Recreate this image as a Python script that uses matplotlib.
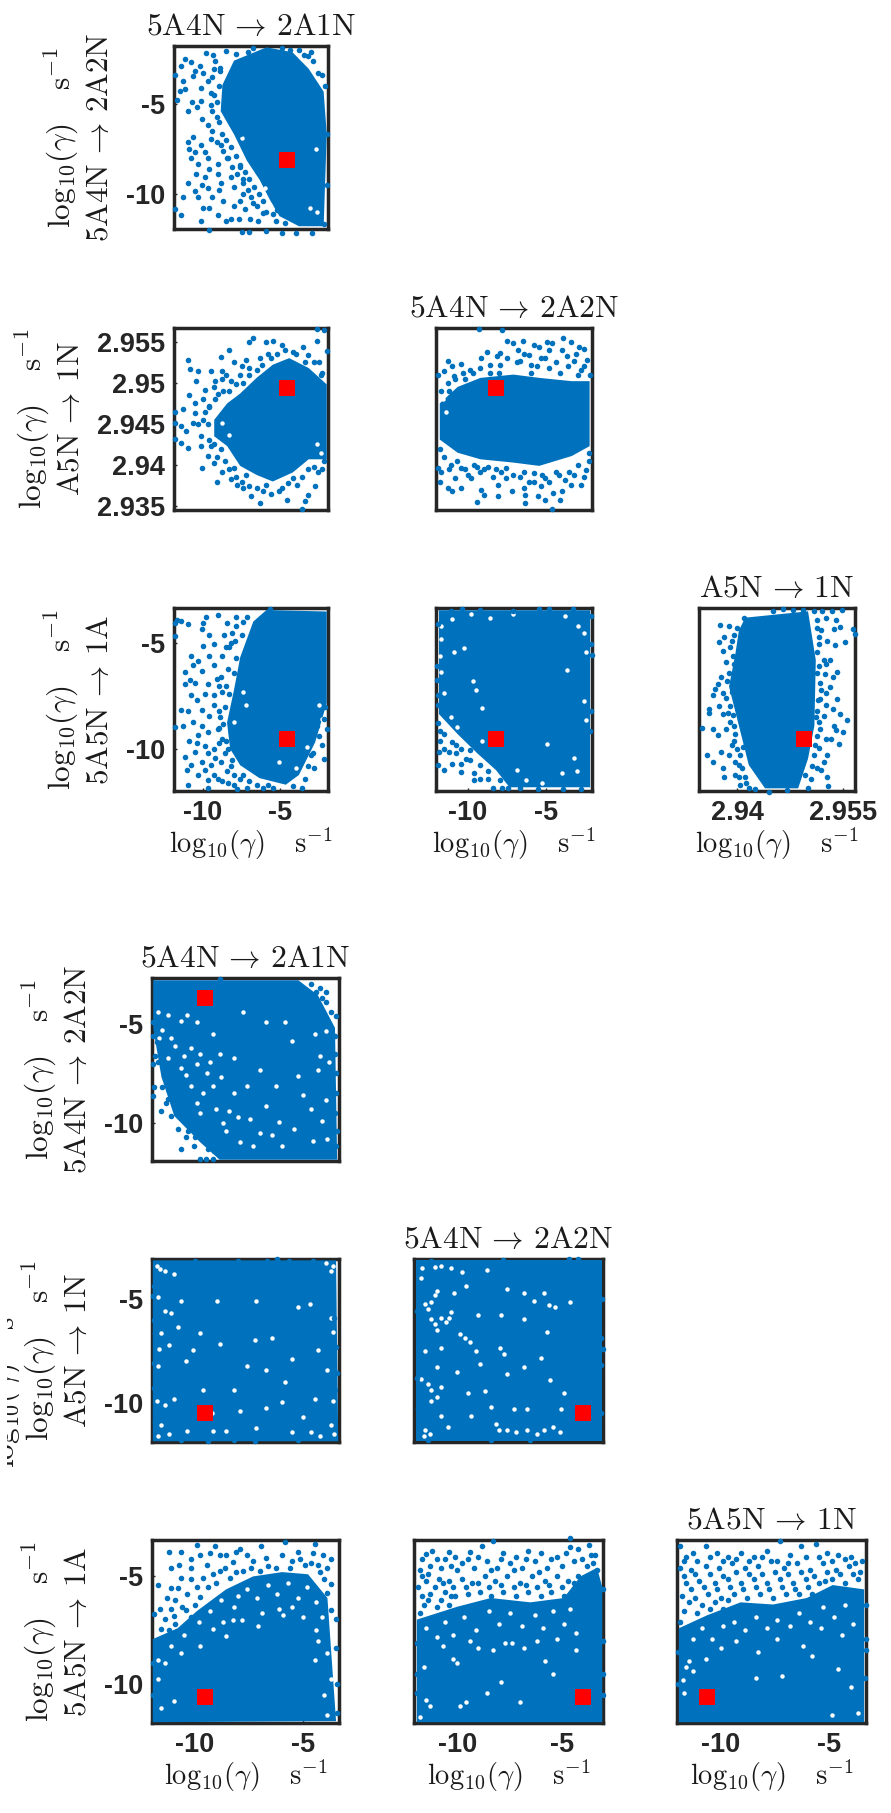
import matplotlib
matplotlib.use("Agg")
import matplotlib.pyplot as plt
from matplotlib.transforms import Bbox

plt.rcParams['mathtext.fontset'] = 'cm'

# *_core = outline of the cloud where dots merge into solid colour
# *_pts  = single dots that can be told apart
# *_gaps = white holes visible inside the merged part of the cloud

t1_core = [(-5.9,-1.86),(-8.0,-2.6),(-8.75,-3.95),(-8.86,-5.41),(-8.0,-6.69),(-7.17,-8.15),(-6.33,-9.24),(-5.7,-10.3),(-5.06,-11.24),(-3.8,-11.8),(-2.2,-11.8),(-2.0,-6.69),(-2.2,-4.32),(-3.17,-3.05),(-4.22,-2.13)]
t1_pts = [(-11.8,-3.4),(-11.4,-2.9),(-11.2,-2.5),(-10.75,-2.7),(-10.2,-2.9),(-9.8,-2.15),(-9.35,-2.3),(-8.5,-2.05),(-7.9,-2.25),(-11.5,-4.3),(-11.3,-3.75),(-10.65,-3.45),(-10.15,-4.1),(-9.7,-3.75),(-9.3,-3.05),(-11.7,-4.8),(-11.0,-5.4),(-10.15,-4.85),(-9.5,-5.05),(-9.3,-4.5),(-10.05,-5.85),(-9.7,-6.2),(-9.1,-5.75),(-11.0,-7.1),(-10.65,-6.85),(-10.15,-7.3),(-9.5,-6.95),(-8.85,-7.3),(-10.8,-8.0),(-10.35,-8.35),(-9.7,-8.0),(-9.05,-8.35),(-8.45,-8.0),(-10.45,-8.9),(-11.0,-9.4),(-9.9,-9.05),(-9.05,-8.9),(-8.2,-9.05),(-7.6,-8.5),(-10.55,-9.85),(-11.3,-10.2),(-10.35,-10.2),(-9.7,-9.65),(-8.85,-9.4),(-8.0,-9.6),(-7.4,-9.2),(-11.8,-10.85),(-11.4,-11.2),(-10.15,-11.5),(-9.6,-10.8),(-9.05,-11.2),(-8.2,-11.4),(-8.0,-10.65),(-7.3,-10.85),(-6.95,-11.4),(-9.6,-12.0),(-7.5,-12.1),(-7.05,-12.1),(-6.45,-11.5),(-5.9,-12.05),(-4.9,-12.2),(-4.0,-12.2),(-2.95,-12.2),(-2.2,-11.65),(-2.0,-9.5),(-2.0,-6.7),(-3.2,-2.35),(-2.55,-3.3),(-7.4,-10.0),(-6.75,-10.5),(-6.1,-11.05),(-5.25,-10.9),(-7.6,-6.65),
          (-9.2,-2.6),(-8.9,-3.2),(-9.4,-3.5),(-9.0,-4.0),(-9.5,-4.4),(-9.1,-4.9),(-9.4,-5.4),(-9.0,-6.0),(-9.4,-6.5),(-8.8,-6.7),(-9.1,-7.1),(-8.5,-7.0),(-8.7,-7.6),(-8.2,-7.4),(-8.4,-8.0),(-7.9,-7.9),(-8.1,-8.5),(-7.6,-8.4),(-7.8,-8.9),(-7.3,-8.8),(-7.4,-9.4),(-7.0,-9.2),(-7.1,-9.8),(-6.7,-9.6),(-6.9,-10.2),(-6.4,-10.0),(-6.5,-10.7),(-6.1,-10.4),(-5.9,-11.0),(-5.5,-11.1),(-5.3,-11.5),(-4.7,-11.6),(-10.5,-3.2),(-10.0,-3.3),(-10.4,-5.2),(-10.7,-4.9),(-11.2,-4.2),(-10.9,-7.5),(-10.5,-7.7),(-9.9,-7.7),(-9.6,-8.6),(-10.1,-9.5),(-9.4,-10.2),(-9.0,-9.8),(-10.0,-10.8),(-8.7,-10.4),(-8.5,-11.5),(-7.7,-11.4),(-7.6,-10.4),(-8.9,-3.0),(-7.1,-2.1),(-6.8,-1.9),(-4.9,-1.9),(-4.4,-2.0),(-3.5,-2.3),(-2.9,-2.6),(-2.3,-3.4),(-2.1,-4.0),(-3.0,-2.1),(-3.8,-2.0)]
t1_gaps = [(-7.5,-6.9),(-6.6,-9.4),(-6.0,-9.7),(-5.7,-10.6),(-2.7,-7.5),(-2.6,-11.0),(-3.1,-10.8)]

t21_core = [(-9.28,2.9455),(-8.44,2.9475),(-7.6,2.9487),(-6.54,2.9506),(-5.49,2.9522),(-4.43,2.9530),(-3.17,2.9518),(-2.0,2.9498),(-2.0,2.9407),(-3.17,2.9407),(-4.2,2.9391),(-5.49,2.9380),(-6.54,2.9388),(-7.6,2.9399),(-8.44,2.9423),(-9.28,2.9435)]
t21_pts = [(-11.8,2.9465),(-11.3,2.9468),(-11.8,2.9451),(-11.8,2.9432),(-11.4,2.9427),(-11.0,2.9421),(-11.4,2.9447),(-11.1,2.9441),(-10.65,2.9451),(-10.55,2.9463),(-10.9,2.9485),(-10.45,2.9502),(-11.0,2.9528),(-10.85,2.9517),(-10.35,2.9514),(-9.5,2.9514),(-9.9,2.9491),(-9.25,2.9502),(-8.85,2.9531),(-8.75,2.9514),(-8.35,2.9540),(-8.0,2.9525),(-8.2,2.9502),(-9.05,2.9487),(-7.0,2.9550),(-6.8,2.9555),(-7.2,2.9528),(-5.9,2.9550),(-5.5,2.9551),(-4.9,2.9546),(-3.55,2.9543),(-2.65,2.9566),(-2.15,2.9564),(-2.6,2.9551),(-2.0,2.9539),(-3.2,2.9534),(-4.2,2.9538),(-6.3,2.9530),(-10.15,2.9435),(-10.15,2.9423),(-9.7,2.9411),(-10.05,2.9397),(-9.1,2.9380),(-8.75,2.9391),(-8.2,2.9383),(-7.8,2.9376),(-7.4,2.9372),(-6.9,2.9362),(-6.3,2.9354),(-5.9,2.9376),(-5.1,2.9368),(-4.55,2.9358),(-3.6,2.9347),(-3.4,2.9356),(-3.2,2.9364),(-2.75,2.9374),(-3.9,2.9376),(-2.55,2.9391),(-2.2,2.9405),(-4.2,2.9384),(-7.2,2.9388),(-8.0,2.9396),(-9.3,2.9403),(-8.85,2.9419),(-9.5,2.9423),(-7.6,2.9510),(-7.0,2.9518),(-5.6,2.9530),(-2.5,2.9525),(-2.3,2.9512),(-9.9,2.9465),(-10.3,2.9450),(-9.6,2.9472),
           (-9.6,2.9470),(-9.2,2.9480),(-8.7,2.9490),(-8.3,2.9490),(-7.9,2.9498),(-7.4,2.9500),(-7.0,2.9510),(-6.5,2.9515),(-6.2,2.9522),(-5.8,2.9535),(-5.2,2.9535),(-4.7,2.9540),(-4.0,2.9535),(-3.4,2.9525),(-2.8,2.9525),(-2.4,2.9510),(-9.7,2.9450),(-10.0,2.9455),(-9.6,2.9430),(-9.3,2.9425),(-9.1,2.9410),(-8.6,2.9405),(-8.3,2.9395),(-7.9,2.9385),(-7.5,2.9380),(-7.0,2.9375),(-6.5,2.9372),(-6.1,2.9368),(-5.6,2.9365),(-4.9,2.9372),(-4.5,2.9378),(-3.6,2.9385),(-3.2,2.9395),(-2.8,2.9398),(-2.3,2.9395),(-10.0,2.9480),(-10.5,2.9475),(-9.3,2.9495),(-8.8,2.9505),(-8.5,2.9510),(-7.5,2.9520)]
t21_gaps = [(-8.8,2.9451),(-8.3,2.9436),(-2.6,2.9425),(-2.4,2.9415)]

t22_core = [(-11.8,2.9475),(-10.66,2.9495),(-9.2,2.9506),(-7.1,2.9510),(-5.45,2.9506),(-3.37,2.9502),(-2.23,2.9502),(-2.23,2.9423),(-3.37,2.9411),(-5.45,2.9399),(-7.1,2.9403),(-9.2,2.9407),(-10.66,2.9415),(-11.8,2.9431)]
t22_pts = [(-9.3,2.9566),(-7.85,2.9564),(-4.65,2.9347),(-9.4,2.9355),(-6.35,2.9354),(-6.35,2.9364),(-8.1,2.9362),(-11.3,2.9527),(-11.0,2.9520),(-10.45,2.9523),(-11.5,2.9514),(-11.9,2.9510),(-10.9,2.9508),(-8.8,2.9538),(-9.15,2.9530),(-8.15,2.9532),(-7.95,2.9536),(-7.5,2.9551),(-7.1,2.9548),(-6.5,2.9551),(-6.8,2.9540),(-5.8,2.9546),(-5.45,2.9544),(-4.95,2.9550),(-4.65,2.9548),(-3.95,2.9555),(-3.4,2.9550),(-2.9,2.9543),(-2.6,2.9541),(-2.4,2.9528),(-4.8,2.9540),(-6.1,2.9534),(-3.7,2.9532),(-3.2,2.9526),(-5.35,2.9530),(-6.7,2.9526),(-7.95,2.9522),(-9.85,2.9515),(-4.8,2.9518),(-2.75,2.9516),(-11.9,2.9396),(-11.8,2.9380),(-11.3,2.9372),(-11.0,2.9368),(-10.45,2.9372),(-11.7,2.9392),(-10.8,2.9384),(-10.0,2.9388),(-9.8,2.9384),(-9.15,2.9370),(-8.95,2.9364),(-8.4,2.9386),(-8.05,2.9376),(-7.55,2.9384),(-7.1,2.9388),(-7.2,2.9368),(-6.4,2.9372),(-5.55,2.9362),(-5.05,2.9358),(-5.35,2.9374),(-4.6,2.9366),(-4.15,2.9358),(-4.0,2.9368),(-3.4,2.9376),(-2.8,2.9376),(-4.2,2.9388),(-3.55,2.9392),(-2.45,2.9394),(-5.05,2.9384),(-6.1,2.9380),(-10.45,2.9396),(-9.4,2.9398),(-11.1,2.9400),(-2.25,2.9415),(-8.6,2.9512),(-6.0,2.9512),(-4.1,2.9512),(-3.0,2.9510),(-11.2,2.9490),(-10.2,2.9505),(-9.0,2.9395),(-7.9,2.9392),(-5.8,2.9390),(-3.0,2.9400),
           (-11.7,2.9490),(-11.3,2.9500),(-10.8,2.9505),(-10.3,2.9512),(-9.7,2.9512),(-9.2,2.9518),(-8.6,2.9522),(-8.0,2.9512),(-7.5,2.9530),(-6.9,2.9525),(-6.4,2.9535),(-6.0,2.9522),(-5.6,2.9520),(-5.1,2.9530),(-4.4,2.9525),(-4.0,2.9540),(-3.6,2.9520),(-3.1,2.9535),(-2.6,2.9520),(-2.2,2.9510),(-11.8,2.9420),(-11.5,2.9410),(-11.2,2.9395),(-10.7,2.9405),(-10.2,2.9395),(-9.6,2.9400),(-9.2,2.9392),(-8.7,2.9398),(-8.2,2.9395),(-7.6,2.9396),(-6.7,2.9385),(-6.4,2.9392),(-5.8,2.9380),(-5.3,2.9388),(-4.8,2.9380),(-4.4,2.9392),(-3.8,2.9382),(-3.2,2.9388),(-2.6,2.9385),(-2.3,2.9405)]
t22_gaps = [(-11.6,2.9480),(-11.4,2.9465),(-11.5,2.9420),(-11.0,2.9410)]

t31_core = [(-6.75,-3.98),(-7.6,-5.67),(-8.0,-7.21),(-8.45,-8.75),(-8.25,-9.99),(-7.6,-10.76),(-6.35,-11.37),(-4.65,-11.68),(-3.8,-11.22),(-2.75,-9.68),(-2.0,-7.83),(-2.0,-3.51),(-5.9,-3.44)]
t31_pts = [(-11.7,-3.9),(-11.8,-4.05),(-11.4,-3.98),(-10.95,-4.1),(-11.8,-4.67),(-10.0,-4.05),(-9.8,-3.75),(-10.1,-4.35),(-9.6,-4.6),(-9.05,-3.67),(-8.45,-4.05),(-7.9,-3.75),(-7.15,-3.75),(-8.65,-4.6),(-9.3,-5.05),(-7.95,-4.9),(-10.0,-5.15),(-10.75,-5.6),(-10.3,-5.85),(-11.2,-6.35),(-10.65,-6.05),(-9.3,-6.05),(-8.75,-5.6),(-10.1,-6.3),(-10.85,-6.75),(-10.55,-6.9),(-11.2,-6.95),(-9.7,-6.95),(-10.75,-7.45),(-9.3,-7.45),(-8.85,-6.6),(-10.1,-8.15),(-11.4,-8.15),(-11.0,-8.2),(-9.3,-7.9),(-9.6,-8.45),(-11.8,-8.95),(-11.3,-8.9),(-10.65,-8.7),(-10.1,-8.9),(-10.35,-9.35),(-9.7,-9.2),(-9.05,-9.05),(-9.9,-9.85),(-9.3,-9.98),(-10.55,-10.15),(-11.2,-10.35),(-10.75,-10.75),(-10.1,-10.6),(-9.5,-10.75),(-8.85,-10.6),(-11.05,-11.0),(-10.35,-11.2),(-9.7,-11.45),(-10.95,-11.7),(-9.7,-11.85),(-9.05,-11.4),(-8.0,-11.7),(-7.15,-11.85),(-7.8,-11.9),(-8.45,-11.05),(-6.15,-11.85),(-5.5,-11.85),(-3.6,-11.85),(-4.2,-11.75),(-2.85,-10.9),(-2.2,-10.45),(-2.3,-9.8),(-3.0,-10.3),(-2.0,-9.05),(-5.7,-3.4),(-8.3,-7.4),(-8.6,-8.0),(-8.9,-8.5),(-9.0,-9.7),(-8.6,-10.2),(-8.1,-10.5),(-7.4,-11.2),(-7.9,-4.2),(-7.5,-4.6),(-8.3,-5.2),(-8.4,-6.2),
           (-7.4,-4.0),(-7.9,-5.7),(-8.2,-5.0),(-8.0,-6.4),(-8.5,-7.0),(-8.8,-7.3),(-9.0,-8.2),(-8.7,-8.8),(-9.0,-9.0),(-8.8,-9.5),(-8.5,-9.6),(-8.4,-10.0),(-8.2,-10.8),(-8.0,-11.2),(-7.6,-11.4),(-7.0,-11.5),(-6.5,-11.7),(-5.8,-11.7),(-3.4,-11.4),(-3.2,-10.8),(-2.9,-10.2),(-2.5,-9.4),(-2.6,-8.9),(-2.2,-8.6),(-2.1,-8.0),(-8.1,-4.5),(-9.9,-7.4),(-10.4,-7.7),(-10.9,-9.6),(-10.4,-9.7),(-9.7,-10.2),(-9.2,-10.4),(-9.9,-11.0),(-9.3,-11.2),(-8.8,-11.5),(-8.4,-11.6),(-9.0,-7.0),(-9.6,-5.6),(-9.1,-6.7),(-8.5,-5.2)]
t31_gaps = [(-7.4,-7.3),(-8.0,-8.7),(-7.2,-7.9),(-2.5,-7.9),(-2.3,-8.6),(-5.1,-10.6),(-4.0,-10.9),(-3.3,-9.9)]

t32_core = [(-11.85,-3.45),(-2.2,-3.45),(-2.2,-11.8),(-7.35,-11.8),(-8.2,-11.0),(-9.4,-10.2),(-10.65,-9.3),(-11.85,-8.35)]
t32_pts = [(-11.9,-8.75),(-11.8,-9.15),(-11.5,-9.3),(-11.8,-9.6),(-11.5,-10.0),(-11.85,-10.15),(-11.05,-9.65),(-10.75,-9.8),(-11.2,-10.15),(-11.9,-10.75),(-11.5,-11.0),(-11.05,-10.7),(-10.45,-10.7),(-10.45,-11.1),(-10.75,-10.2),(-10.15,-10.45),(-9.85,-10.5),(-9.6,-11.15),(-9.2,-11.4),(-9.6,-11.45),(-8.7,-11.4),(-8.4,-11.85),(-7.85,-11.85),(-7.45,-11.85),(-9.85,-10.05),(-9.2,-10.75),(-10.45,-10.0),(-8.7,-11.05),(-7.95,-11.45),(-6.7,-11.85),(-5.5,-11.9),(-3.95,-11.9),(-2.75,-11.9),(-11.9,-4.1),(-10.35,-3.4),(-9.25,-3.45),(-11.1,-3.5),(-7.1,-3.5),(-5.45,-3.4),(-4.85,-3.4),(-3.3,-3.4),(-2.15,-3.7),(-2.15,-5.05),(-2.1,-5.55),(-2.15,-8.2),(-2.2,-9.15),(-11.95,-6.1),(-11.95,-6.75),(-11.9,-7.45),(-11.9,-7.9)]
t32_gaps = [(-11.7,-4.2),(-11.05,-3.85),(-11.7,-4.8),(-10.9,-5.4),(-11.8,-5.6),(-10.25,-5.25),(-11.7,-6.35),(-9.7,-6.8),(-11.5,-7.35),(-9.5,-7.2),(-9.1,-8.05),(-3.0,-4.2),(-2.6,-4.5),(-3.8,-3.7),(-9.8,-3.65),(-7.1,-3.65),(-8.6,-3.8),(-3.7,-6.25),(-2.45,-5.4),(-2.6,-7.75),(-2.45,-8.65),(-4.95,-9.75),(-3.25,-10.4),(-3.05,-11.05),(-6.9,-11.0),(-4.0,-11.15),(-5.25,-11.6),(-6.3,-11.45),(-9.1,-9.6),(-11.1,-8.5),(-10.7,-8.95)]

t33_core = [(2.9411,-3.8),(2.9500,-3.5),(2.9511,-5.8),(2.9509,-8.9),(2.9500,-10.45),(2.9486,-11.85),(2.9439,-11.85),(2.9416,-10.75),(2.9402,-8.9),(2.9388,-7.05),(2.9397,-5.5),(2.9402,-4.4)]
t33_pts = [(2.9375,-4.15),(2.9388,-4.2),(2.9381,-4.7),(2.9374,-4.95),(2.9379,-5.35),(2.9390,-5.2),(2.9384,-5.9),(2.9377,-6.6),(2.9372,-6.95),(2.9368,-7.15),(2.9365,-7.45),(2.9379,-7.35),(2.9374,-7.95),(2.9359,-8.1),(2.9360,-8.3),(2.9379,-8.35),(2.9390,-7.95),(2.9349,-9.0),(2.9365,-9.05),(2.9372,-9.35),(2.9384,-9.05),(2.9395,-8.9),(2.9377,-10.15),(2.9357,-10.3),(2.9365,-10.6),(2.9379,-10.9),(2.9381,-11.3),(2.9397,-11.2),(2.9388,-10.3),(2.9402,-10.75),(2.9404,-11.7),(2.9416,-11.85),(2.9409,-3.8),(2.9451,-3.5),(2.9465,-3.4),(2.9479,-3.45),(2.9493,-3.45),(2.9509,-3.5),(2.9520,-3.5),(2.9534,-3.5),(2.9548,-3.45),(2.9564,-4.35),(2.9566,-4.55),(2.9552,-4.95),(2.9546,-4.25),(2.9537,-4.35),(2.9518,-4.4),(2.9527,-4.9),(2.9516,-5.05),(2.9538,-5.1),(2.9531,-5.8),(2.9522,-5.8),(2.9541,-6.35),(2.9524,-6.45),(2.9517,-6.9),(2.9531,-7.05),(2.9526,-7.35),(2.9541,-7.65),(2.9517,-7.65),(2.9546,-8.35),(2.9535,-8.1),(2.9555,-8.65),(2.9522,-8.45),(2.9550,-9.2),(2.9537,-8.9),(2.9544,-9.75),(2.9532,-9.5),(2.9517,-9.05),(2.9527,-10.3),(2.9515,-9.95),(2.9513,-10.9),(2.9527,-11.3),(2.9529,-11.75),(2.9504,-11.4),(2.9500,-11.85),(2.9518,-11.0),(2.9395,-6.0),(2.9392,-4.9),(2.9513,-4.3),(2.9512,-6.4),(2.9514,-7.7),(2.9511,-8.5),(2.9508,-10.3),(2.9408,-9.9),(2.9395,-9.6),(2.9402,-11.3),
           (2.9400,-4.3),(2.9395,-4.6),(2.9393,-5.6),(2.9388,-6.4),(2.9385,-6.8),(2.9392,-7.3),(2.9383,-7.6),(2.9386,-8.3),(2.9393,-8.4),(2.9390,-8.7),(2.9397,-9.3),(2.9392,-9.8),(2.9400,-10.0),(2.9403,-10.3),(2.9396,-10.6),(2.9407,-10.9),(2.9411,-11.3),(2.9412,-11.6),(2.9425,-11.9),(2.9445,-12.0),(2.9470,-11.95),(2.9513,-3.9),(2.9516,-4.7),(2.9513,-5.4),(2.9515,-6.1),(2.9518,-7.2),(2.9513,-8.2),(2.9515,-8.7),(2.9512,-9.4),(2.9510,-9.8),(2.9505,-10.8),(2.9495,-11.2),(2.9522,-10.6),(2.9525,-3.8),(2.9540,-3.9),(2.9525,-6.0),(2.9535,-6.6),(2.9525,-7.9),(2.9525,-9.5),(2.9540,-9.1)]
t33_gaps = []

b1_core = [(-11.93,-2.8),(-5.2,-2.8),(-4.3,-3.54),(-3.5,-5.2),(-3.4,-11.85),(-8.85,-11.85),(-9.75,-10.97),(-10.95,-9.65),(-11.55,-7.67),(-11.93,-5.2)]
b1_pts = [(-11.85,-6.6),(-11.95,-7.0),(-11.9,-8.2),(-11.95,-8.65),(-11.55,-9.4),(-11.25,-8.8),(-10.8,-10.3),(-10.65,-11.3),(-10.4,-10.7),(-11.1,-9.65),(-11.35,-9.0),(-9.75,-11.8),(-9.5,-11.8),(-10.05,-11.15),(-9.15,-11.8),(-4.2,-3.2),(-3.9,-3.4),(-4.6,-3.0),(-3.45,-4.6),(-3.45,-7.5),(-3.45,-11.15),(-8.85,-2.75),(-3.7,-4.4),(-11.95,-4.9),(-11.95,-5.6),(-10.4,-10.0),(-10.0,-10.7),(-9.9,-10.3),(-3.9,-3.9),(-4.1,-3.7),
          (-11.75,-5.9),(-11.7,-6.9),(-11.5,-8.2),(-11.2,-8.4),(-10.9,-9.1),(-10.7,-9.7),(-10.3,-10.4),(-10.0,-10.3),(-9.4,-11.3),(-9.1,-11.4),(-3.5,-5.6),(-3.5,-6.5),(-3.45,-8.5),(-3.5,-9.5),(-3.4,-10.4),(-4.4,-3.4),(-4.0,-4.6),(-3.8,-5.0)]
b1_gaps = [(-11.7,-4.4),(-11.25,-4.55),(-10.35,-4.55),(-9.9,-4.9),(-11.1,-5.7),(-11.65,-5.7),(-10.2,-6.2),(-9.75,-6.5),(-11.25,-6.7),(-8.85,-6.5),(-10.65,-7.2),(-9.45,-7.5),(-8.2,-6.7),(-5.8,-4.9),(-5.5,-5.85),(-4.45,-5.5),(-3.9,-5.35),(-9.15,-8.15),(-9.6,-8.5),(-10.2,-8.15),(-8.2,-8.5),(-8.7,-10.0),(-8.55,-10.4),(-7.45,-9.8),(-9.75,-9.5),(-5.95,-11.15),(-6.1,-9.95),(-4.3,-7.35),(-3.9,-8.85),(-7.0,-7.35),(-7.6,-8.15),(-6.25,-8.15),(-5.2,-7.65),(-4.6,-9.3),(-9.0,-9.3),(-7.9,-10.97),(-7.3,-11.15),(-6.7,-9.15),(-3.85,-10.8),(-10.65,-4.85),(-9.15,-5.5),(-7.75,-4.4),(-6.7,-4.9),
           (-11.5,-5.3),(-10.9,-6.1),(-10.5,-6.6),(-9.9,-7.0),(-9.3,-6.9),(-8.8,-7.7),(-10.4,-7.6),(-9.9,-9.0),(-8.4,-9.4),(-8.0,-9.7),(-7.0,-10.5),(-6.4,-10.6),(-5.4,-10.3),(-5.0,-8.6),(-4.2,-6.6),(-3.8,-6.9),(-4.1,-9.9),(-4.5,-10.9)]

b21_core = [(-11.95,-3.15),(-3.45,-3.15),(-3.35,-11.85),(-11.95,-11.85)]
b21_pts = [(-11.9,-4.4),(-11.95,-4.85),(-11.85,-6.65),(-11.9,-8.1),(-11.85,-10.9),(-8.0,-3.17),(-6.65,-3.17),(-5.65,-3.17),(-6.2,-3.1),(-3.4,-8.55),(-3.45,-7.3),(-3.55,-5.9),(-8.2,-11.8),(-5.2,-11.8),(-10.65,-11.8),(-3.5,-9.4),(-11.9,-6.0),(-11.9,-9.3),(-10.0,-3.2),(-4.5,-3.2),(-7.2,-11.85),(-9.4,-11.85)]
b21_gaps = [(-11.4,-3.65),(-10.95,-3.8),(-11.1,-5.7),(-11.55,-6.65),(-9.75,-6.65),(-10.1,-7.45),(-11.7,-8.25),(-11.4,-10.1),(-11.55,-11.05),(-10.95,-9.8),(-8.95,-5.1),(-10.65,-5.1),(-7.15,-5.1),(-5.2,-5.4),(-4.65,-5.25),(-3.7,-3.65),(-3.7,-5.9),(-4.3,-7.45),(-5.5,-7.9),(-6.7,-8.4),(-7.6,-8.25),(-5.8,-9.0),(-4.45,-9.8),(-3.7,-11.05),(-4.6,-11.4),(-7.15,-11.2),(-8.55,-11.35),(-9.15,-11.35),(-10.35,-11.35),(-6.7,-10.25),(-7.9,-10.4),(-5.95,-9.95),(-8.85,-7.15),(-10.8,-6.35),(-3.85,-8.4),
            (-11.75,-3.4),(-11.6,-3.55),(-3.6,-3.4),(-3.9,-3.3),(-11.7,-4.9),(-11.4,-5.6),(-11.65,-7.4),(-11.75,-9.9),(-11.7,-11.6),(-11.2,-11.5),(-3.6,-6.6),(-3.6,-9.9),(-3.55,-11.5),(-4.2,-11.6),(-11.2,-7.2),(-10.4,-8.0),(-9.6,-9.4),(-9.2,-10.5),(-8.2,-9.4),(-7.2,-7.0),(-6.4,-6.9),(-5.0,-10.7),(-5.5,-11.4)]

b22_core = [(-11.98,-3.15),(-3.08,-3.15),(-3.08,-11.85),(-11.98,-11.85)]
b22_pts = [(-3.05,-5.0),(-3.0,-7.4),(-4.65,-3.1),(-4.2,-3.1),(-7.8,-3.15),(-11.95,-5.6),(-11.95,-8.8),(-11.9,-10.25),(-11.4,-11.8),(-8.4,-11.8),(-6.5,-11.8),(-3.1,-10.5),(-3.1,-8.2),(-11.25,-3.2),(-3.1,-6.9)]
b22_gaps = [(-11.1,-4.8),(-11.25,-5.15),(-11.55,-5.25),(-11.25,-5.95),(-11.0,-6.5),(-10.3,-5.65),(-10.55,-6.1),(-9.65,-6.9),(-10.3,-3.5),(-9.6,-4.4),(-10.15,-4.7),(-11.75,-4.0),(-9.0,-5.8),(-7.95,-7.35),(-7.75,-7.65),(-9.1,-7.5),(-10.8,-7.35),(-11.55,-7.5),(-11.75,-8.85),(-11.25,-9.4),(-11.25,-9.9),(-10.8,-9.25),(-9.5,-9.55),(-10.0,-8.5),(-8.9,-8.15),(-11.0,-8.3),(-11.55,-11.3),(-10.8,-10.65),(-10.45,-11.15),(-8.15,-11.0),(-7.6,-11.3),(-6.65,-11.3),(-5.85,-11.3),(-5.4,-11.15),(-8.4,-10.2),(-9.35,-10.65),(-8.7,-9.45),(-7.3,-10.3),(-6.65,-10.3),(-5.55,-8.9),(-4.9,-9.55),(-5.05,-10.3),(-6.35,-5.1),(-5.3,-5.4),(-4.6,-5.15),(-7.9,-5.8),(-6.8,-5.95),(-5.7,-6.6),(-5.85,-4.7),(-7.6,-4.55),(-6.8,-4.7),(-6.0,-7.85),(-6.8,-8.3),(-7.6,-8.6),(-11.1,-3.45),
            (-11.0,-4.6),(-11.4,-5.5),(-11.1,-6.2),(-10.8,-5.9),(-10.4,-5.9),(-9.9,-6.7),(-9.4,-7.1),(-9.8,-3.7),(-11.6,-11.6),(-11.3,-11.5),(-11.0,-9.7),(-11.4,-9.1),(-8.0,-11.3),(-7.2,-11.4),(-6.2,-11.5),(-5.1,-11.4),(-5.6,-5.3),(-11.7,-3.5),(-10.8,-3.4),(-8.6,-3.6)]

b31_core = [(-11.95,-7.9),(-10.8,-7.4),(-9.9,-6.6),(-8.55,-5.6),(-7.3,-5.0),(-5.95,-4.8),(-4.75,-4.9),(-3.85,-6.0),(-3.45,-11.7),(-11.95,-11.75)]
b31_pts = [(-11.2,-3.85),(-10.65,-3.85),(-9.9,-3.55),(-9.05,-3.6),(-8.55,-4.0),(-10.2,-4.2),(-9.75,-4.0),(-9.3,-3.9),(-8.85,-4.0),(-11.1,-4.6),(-10.75,-4.45),(-10.2,-4.6),(-9.45,-4.45),(-9.15,-4.9),(-11.7,-5.4),(-11.1,-5.55),(-10.65,-5.05),(-10.2,-5.1),(-9.9,-5.5),(-10.8,-5.55),(-9.6,-5.05),(-8.85,-4.75),(-8.1,-3.85),(-7.9,-3.75),(-7.6,-4.0),(-6.95,-3.6),(-5.8,-3.4),(-4.45,-3.5),(-8.25,-4.35),(-7.3,-4.3),(-6.7,-4.15),(-5.95,-4.0),(-5.2,-3.85),(-4.5,-3.9),(-4.05,-4.0),(-3.7,-4.2),(-3.85,-4.6),(-4.3,-4.45),(-4.9,-4.45),(-5.5,-4.3),(-6.25,-4.6),(-7.0,-4.75),(-7.75,-4.75),(-8.35,-5.05),(-9.75,-5.95),(-10.35,-5.8),(-10.9,-6.1),(-11.1,-6.5),(-11.4,-6.95),(-10.95,-6.85),(-10.4,-6.55),(-11.55,-7.45),(-11.9,-6.75),(-3.7,-5.35),(-3.85,-5.75),(-3.7,-6.55),(-3.45,-6.95),(-3.45,-8.3),(-3.4,-10.0),(-3.4,-11.3),(-11.95,-9.0),(-11.95,-10.5),
           (-10.0,-6.3),(-9.4,-5.5),(-9.0,-5.3),(-8.6,-4.6),(-8.1,-4.8),(-7.4,-4.6),(-6.6,-4.5),(-5.6,-4.6),(-5.1,-4.2),(-4.6,-4.4),(-4.2,-4.8),(-4.0,-5.1),(-11.3,-6.0),(-11.6,-6.5),(-10.6,-6.4),(-10.2,-6.9),(-10.9,-7.2),(-11.2,-7.5)]
b31_gaps = [(-11.7,-8.85),(-11.4,-9.0),(-11.1,-8.2),(-11.7,-9.75),(-11.55,-11.1),(-10.95,-10.75),(-9.15,-7.45),(-9.75,-8.2),(-8.25,-7.0),(-7.05,-7.3),(-6.1,-6.5),(-5.5,-6.4),(-4.3,-8.0),(-3.85,-8.55),(-3.7,-9.75),(-3.85,-11.4),(-4.0,-10.5),(-4.45,-8.85),(-10.65,-8.55),(-8.55,-7.75),
            (-9.3,-6.6),(-8.8,-6.1),(-8.2,-6.4),(-7.6,-5.6),(-7.1,-6.0),(-6.6,-5.4),(-6.2,-5.8),(-5.7,-5.3),(-5.2,-6.0),(-4.8,-5.5),(-4.4,-6.2),(-4.1,-6.9),(-8.0,-5.9),(-9.8,-7.1),(-10.5,-7.7),(-6.9,-6.7),(-5.9,-6.8),(-5.0,-6.9),(-4.4,-7.5),(-7.8,-7.0),(-8.7,-7.1)]

b32_core = [(-11.95,-7.0),(-10.0,-6.4),(-8.4,-6.0),(-6.5,-6.2),(-4.9,-6.0),(-4.1,-5.0),(-3.3,-4.6),(-3.05,-5.5),(-3.05,-11.75),(-11.95,-11.75)]
b32_pts = [(-11.7,-4.2),(-11.5,-3.95),(-11.2,-3.8),(-10.4,-3.85),(-10.1,-4.1),(-9.4,-3.85),(-8.8,-3.6),(-7.8,-3.9),(-7.2,-4.1),(-6.6,-3.8),(-6.0,-3.9),(-5.2,-4.1),(-4.6,-3.65),(-4.2,-3.75),(-3.7,-3.55),(-3.4,-4.0),(-11.8,-4.7),(-11.3,-4.5),(-10.8,-4.6),(-10.3,-4.5),(-9.8,-4.4),(-9.2,-4.6),(-8.6,-4.3),(-8.1,-4.6),(-7.5,-4.4),(-6.9,-4.6),(-6.3,-4.3),(-5.7,-4.6),(-5.0,-4.5),(-4.4,-4.3),(-3.8,-4.5),(-3.3,-4.7),(-11.5,-5.2),(-10.9,-5.1),(-10.4,-5.2),(-9.8,-5.1),(-9.3,-5.3),(-8.7,-5.0),(-8.2,-5.2),(-7.6,-5.0),(-7.0,-5.3),(-6.4,-5.0),(-5.8,-5.2),(-5.2,-5.0),(-4.7,-5.2),(-4.2,-5.0),(-3.6,-5.2),(-11.9,-5.5),(-11.3,-5.8),(-10.6,-5.7),(-10.1,-5.9),(-9.5,-5.8),(-8.9,-5.7),(-8.4,-5.9),(-7.8,-5.7),(-7.2,-5.9),(-6.6,-5.7),(-6.0,-5.9),(-5.5,-5.7),(-4.9,-5.9),(-4.5,-5.7),(-11.6,-6.3),(-11.0,-6.4),(-10.4,-6.3),(-11.95,-8.1),(-11.95,-9.5),(-11.95,-10.4),(-3.0,-5.6),(-3.0,-8.0),(-3.0,-9.5),(-3.0,-10.5),(-4.6,-3.2),(-8.3,-3.35),
           (-11.4,-4.9),(-11.0,-4.2),(-10.6,-4.2),(-10.0,-4.7),(-9.5,-4.2),(-9.0,-4.1),(-8.4,-4.7),(-7.9,-4.2),(-7.3,-4.7),(-6.7,-4.2),(-6.1,-4.8),(-5.5,-4.2),(-4.8,-3.9),(-4.0,-4.2),(-3.6,-4.0),(-3.5,-4.4),(-11.7,-5.0),(-11.1,-5.5),(-10.7,-5.3),(-10.2,-5.5),(-9.6,-5.5),(-9.0,-5.3),(-8.5,-5.5),(-7.9,-5.4),(-7.3,-5.5),(-6.7,-5.4),(-6.2,-5.5),(-5.6,-5.4),(-5.0,-5.5),(-4.4,-5.3),(-11.7,-5.9),(-11.4,-6.1),(-10.8,-6.1),(-10.3,-5.9),(-11.8,-6.7)]
b32_gaps = [(-11.6,-9.2),(-10.2,-8.8),(-10.0,-9.0),(-9.0,-8.3),(-8.3,-8.4),(-6.8,-8.3),(-5.8,-8.9),(-5.4,-9.5),(-7.9,-9.9),(-8.6,-10.4),(-9.9,-11.0),(-9.6,-10.8),(-11.5,-10.7),(-11.3,-11.0),(-11.8,-11.5),(-7.4,-8.1),(-6.2,-8.0),(-7.0,-10.8),(-4.3,-8.4),
            (-11.5,-7.4),(-11.0,-7.8),(-10.6,-7.1),(-10.2,-7.7),(-9.7,-6.9),(-9.1,-7.5),(-8.5,-6.6),(-8.0,-7.2),(-7.5,-6.7),(-6.9,-7.3),(-6.3,-6.8),(-5.9,-7.4),(-5.4,-6.6),(-4.9,-7.2),(-4.6,-6.5),(-4.3,-7.6),(-10.7,-8.2),(-9.4,-8.0),(-7.7,-8.1),(-5.2,-7.9)]

b33_core = [(-11.95,-7.4),(-10.65,-6.8),(-9.1,-6.2),(-7.6,-6.3),(-6.05,-6.0),(-4.85,-5.4),(-3.4,-5.6),(-3.4,-11.75),(-11.95,-11.75)]
b33_pts = [(-11.9,-3.6),(-11.6,-4.1),(-11.3,-3.9),(-10.7,-3.6),(-10.2,-3.9),(-9.7,-4.1),(-9.1,-3.9),(-8.5,-4.1),(-7.9,-3.8),(-7.3,-3.35),(-6.8,-4.0),(-6.3,-3.6),(-5.6,-3.5),(-5.1,-3.9),(-4.6,-4.0),(-4.0,-4.1),(-3.5,-4.3),(-11.9,-4.6),(-11.4,-4.7),(-10.7,-4.5),(-10.1,-4.6),(-9.5,-4.4),(-8.9,-4.6),(-8.3,-4.5),(-7.7,-4.3),(-7.1,-4.6),(-6.5,-4.4),(-5.9,-4.7),(-5.3,-4.4),(-4.7,-4.7),(-4.1,-4.5),(-3.6,-4.8),(-11.6,-5.3),(-11.0,-5.2),(-10.3,-5.3),(-9.7,-5.1),(-9.1,-5.3),(-8.5,-5.1),(-7.9,-5.3),(-7.3,-5.1),(-6.7,-5.3),(-6.1,-5.1),(-5.5,-5.3),(-4.9,-5.1),(-4.3,-5.3),(-3.7,-5.1),(-11.8,-5.9),(-11.2,-6.0),(-10.6,-5.8),(-10.0,-6.0),(-9.4,-5.8),(-8.8,-6.0),(-8.2,-5.8),(-7.6,-6.0),(-7.0,-5.8),(-6.4,-5.8),(-5.8,-5.8),(-11.7,-6.6),(-11.1,-6.7),(-10.5,-6.5),(-9.9,-6.5),(-12.0,-8.5),(-12.0,-10.0),(-3.3,-6.3),(-3.3,-7.9),(-3.3,-8.4),(-3.35,-9.7),
           (-11.7,-4.3),(-11.1,-4.3),(-10.5,-4.1),(-9.9,-4.3),(-9.3,-4.2),(-8.7,-4.3),(-8.1,-4.1),(-7.4,-4.3),(-6.9,-4.4),(-6.1,-4.1),(-5.5,-4.1),(-4.9,-4.3),(-4.3,-4.2),(-3.8,-4.4),(-11.7,-5.0),(-11.2,-4.9),(-10.5,-4.9),(-9.9,-5.0),(-9.3,-4.8),(-8.7,-4.9),(-8.1,-4.9),(-7.5,-4.8),(-6.9,-4.9),(-6.3,-4.8),(-5.7,-5.0),(-5.1,-4.8),(-4.5,-4.9),(-3.9,-4.9),(-11.4,-5.6),(-10.8,-5.5),(-10.2,-5.6),(-9.6,-5.5),(-9.0,-5.6),(-8.4,-5.5),(-7.8,-5.6),(-7.2,-5.5),(-6.6,-5.6),(-6.0,-5.5),(-5.2,-5.2),(-11.5,-6.2),(-10.9,-6.3),(-10.3,-6.2),(-9.7,-6.1),(-11.9,-7.1)]
b33_gaps = [(-11.6,-9.2),(-11.75,-9.8),(-11.5,-8.9),(-10.7,-8.8),(-11.3,-9.4),(-11.7,-10.4),(-10.0,-8.3),(-9.3,-8.0),(-8.3,-8.5),(-7.4,-7.9),(-6.2,-8.2),(-5.4,-7.4),(-5.8,-8.7),(-4.6,-9.3),(-4.0,-10.1),(-7.2,-9.6),(-8.4,-9.7),(-4.9,-11.4),(-3.7,-11.3),
            (-11.3,-7.9),(-10.9,-7.4),(-10.4,-7.9),(-9.9,-7.3),(-9.4,-7.1),(-8.9,-7.5),(-8.4,-6.9),(-7.9,-7.4),(-7.4,-7.0),(-6.8,-7.3),(-6.4,-6.7),(-5.9,-7.1),(-5.3,-6.4),(-4.8,-6.9),(-4.3,-6.3),(-3.9,-7.2),(-4.4,-7.7)]

# red squares
t1_red = (-4.54, -8.11)
t21_red = (-4.54, 2.9494)
t22_red = (-8.2, 2.9494)
t31_red = (-4.54, -9.52)
t32_red = (-8.2, -9.52)
t33_red = (2.9494, -9.52)
b1_red = (-9.55, -3.68)
b21_red = (-9.55, -10.5)
b22_red = (-3.96, -10.5)
b31_red = (-9.55, -10.6)
b32_red = (-3.96, -10.6)
b33_red = (-10.64, -10.6)

gamma_ticks = [-5, -10]
gamma_labels = ['-5', '-10']
a5n_ticks = [2.935, 2.94, 2.945, 2.95, 2.955]
a5n_labels = ['2.935', '2.94', '2.945', '2.95', '2.955']
a5n_xticks = [2.94, 2.955]
a5n_xlabels = ['2.94', '2.955']

BLUE = '#0072BD'
DARK = '#262626'
TXT = '#1a1a1a'
W, H = 891, 1813

unit = r'$\mathrm{log}_{10}(\gamma)\quad\,\mathrm{s}^{-1}$'
t_a = r'$\mathrm{5A4N}\,\rightarrow\,\mathrm{2A1N}$'
t_b = r'$\mathrm{5A4N}\,\rightarrow\,\mathrm{2A2N}$'
t_c = r'$\mathrm{A5N}\,\rightarrow\,\mathrm{1N}$'
t_d = r'$\mathrm{5A5N}\,\rightarrow\,\mathrm{1N}$'
r_a = r'$\mathrm{5A4N}\,\rightarrow\,\mathrm{2A2N}$'
r_b = r'$\mathrm{A5N}\,\rightarrow\,\mathrm{1N}$'
r_c = r'$\mathrm{5A5N}\,\rightarrow\,\mathrm{1A}$'

fig = plt.figure(figsize=(W / 100, H / 100), dpi=100)


def panel(box, xlim, ylim, core, pts, gaps, red, title=None, rlabel=None, xlab=None,
          xt=None, xtl=None, yt=None, ytl=None):
    l, t, r, b = box
    ax = fig.add_axes([(l + 1.7) / W, 1 - (b - 1.7) / H, (r - l - 3.4) / W, (b - t - 3.4) / H])
    ax.set_xlim(xlim)
    ax.set_ylim(ylim)
    ax.fill([p[0] for p in core], [p[1] for p in core], color=BLUE, lw=0, zorder=3)
    if gaps:
        ax.plot([p[0] for p in gaps], [p[1] for p in gaps], 'o', color='white', ms=3.2, mew=0, zorder=4)
    ax.plot([p[0] for p in pts], [p[1] for p in pts], 'o', color=BLUE, ms=4, mew=0, zorder=5, clip_on=False)
    ax.plot([red[0]], [red[1]], 's', color='#FF0000', ms=12.2, mew=0, zorder=6)
    for s in ax.spines.values():
        s.set_linewidth(2.5)
        s.set_color(DARK)
        s.set_zorder(2)
    ax.tick_params(direction='in', length=2, width=1, color=DARK, labelcolor=DARK, pad=6)
    ax.set_xticks(xt if xt else [])
    ax.set_yticks(yt if yt else [])
    if xt:
        ax.set_xticklabels(xtl, fontfamily='Liberation Sans', fontweight='bold', fontsize=19.5)
    if yt:
        ax.set_yticklabels(ytl, fontfamily='Liberation Sans', fontweight='bold', fontsize=19.5)
    if title:
        ax.set_title(title, fontsize=22.7, pad=8, color=TXT)
    if rlabel:
        ax.set_ylabel(unit + '\n' + rlabel, fontsize=22.6, labelpad=9, linespacing=1.2, color=TXT)
    if xlab:
        ax.set_xlabel(xlab, fontsize=20.5, labelpad=0, color=TXT)
    return ax


xt1 = (-11.9, -1.9)
xt2 = (-12.06, -2.06)
xb1 = (-12.0, -3.3)
xb2 = (-12.1, -3.0)
xb3 = (-12.05, -3.3)
a5n_x = (2.9345, 2.9567)
a5n_y = (2.9345, 2.9567)

# upper block
panel((172, 44, 330, 231), xt1, (-11.97, -1.77), t1_core, t1_pts, t1_gaps, t1_red, title=t_a, rlabel=r_a,
      yt=gamma_ticks, ytl=gamma_labels)
panel((172, 326, 330, 512), xt1, a5n_y, t21_core, t21_pts, t21_gaps, t21_red, rlabel=r_b,
      yt=a5n_ticks, ytl=a5n_labels)
panel((434, 326, 594, 512), xt2, a5n_y, t22_core, t22_pts, t22_gaps, t22_red, title=t_b)
panel((172, 606, 330, 793), xt1, (-11.99, -3.33), t31_core, t31_pts, t31_gaps, t31_red, rlabel=r_c, xlab=unit,
      xt=gamma_ticks, xtl=gamma_labels, yt=gamma_ticks, ytl=gamma_labels)
panel((434, 606, 594, 793), xt2, (-11.99, -3.33), t32_core, t32_pts, t32_gaps, t32_red, xlab=unit,
      xt=gamma_ticks, xtl=gamma_labels)
panel((697, 606, 857, 793), a5n_x, (-11.99, -3.33), t33_core, t33_pts, t33_gaps, t33_red, title=t_c, xlab=unit,
      xt=a5n_xticks, xtl=a5n_xlabels)

# lower block
panel((150, 976, 341, 1163), xb1, (-11.93, -2.67), b1_core, b1_pts, b1_gaps, b1_red, title=t_a, rlabel=r_a,
      yt=gamma_ticks, ytl=gamma_labels)
panel((150, 1257, 341, 1444), xb1, (-11.9, -3.07), b21_core, b21_pts, b21_gaps, b21_red, rlabel=r_b,
      yt=gamma_ticks, ytl=gamma_labels)
panel((412, 1257, 605, 1444), xb2, (-11.9, -3.07), b22_core, b22_pts, b22_gaps, b22_red, title=t_b)
panel((150, 1538, 341, 1725), xb1, (-11.8, -3.3), b31_core, b31_pts, b31_gaps, b31_red, rlabel=r_c, xlab=unit,
      xt=gamma_ticks, xtl=gamma_labels, yt=gamma_ticks, ytl=gamma_labels)
panel((412, 1538, 605, 1725), xb2, (-11.8, -3.3), b32_core, b32_pts, b32_gaps, b32_red, xlab=unit,
      xt=gamma_ticks, xtl=gamma_labels)
panel((675, 1538, 868, 1725), xb3, (-11.8, -3.3), b33_core, b33_pts, b33_gaps, b33_red, title=t_d, xlab=unit,
      xt=gamma_ticks, xtl=gamma_labels)

# leftover label fragment at the left edge of the lower middle row, cut off in the reference too
ghost = fig.text(24 / W, 1 - 1378 / H, unit, rotation=90, ha='right', va='center', fontsize=22.6, color=TXT)
ghost.set_clip_box(Bbox.from_extents(7, 0, 19, H))
ghost.set_clip_on(True)

fig.savefig('out.png', dpi=100)
